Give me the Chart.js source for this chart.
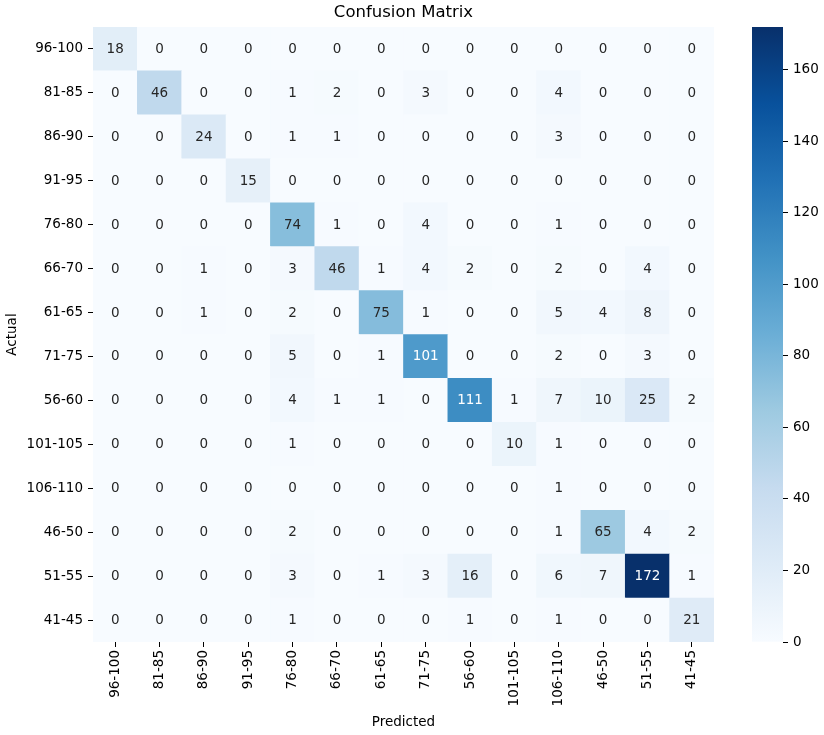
<!DOCTYPE html>
<html>
<head>
<meta charset="utf-8">
<script src="https://cdn.jsdelivr.net/npm/chart.js@4.4.1/dist/chart.umd.min.js"></script>
<style>
  html, body { margin: 0; padding: 0; background: #fff; }
  #wrap { position: relative; width: 824px; height: 735px; }
  #matrix { position: absolute; left: 0; top: 0; }
  #cbar { position: absolute; left: 740px; top: 0; }
</style>
</head>
<body>
<div id="wrap">
  <canvas id="matrix" width="807" height="735"></canvas>
  <canvas id="cbar" width="84" height="735"></canvas>
</div>
<script>
// Class labels (rows = actual, columns = predicted)
const actualLabels = ['96-100', '81-85', '86-90', '91-95', '76-80', '66-70', '61-65',
  '71-75', '56-60', '101-105', '106-110', '46-50', '51-55', '41-45'];
const predictedLabels = actualLabels.slice();

// Counts, one row per actual class
const counts = [
  [18, 0, 0, 0, 0, 0, 0, 0, 0, 0, 0, 0, 0, 0],
  [0, 46, 0, 0, 1, 2, 0, 3, 0, 0, 4, 0, 0, 0],
  [0, 0, 24, 0, 1, 1, 0, 0, 0, 0, 3, 0, 0, 0],
  [0, 0, 0, 15, 0, 0, 0, 0, 0, 0, 0, 0, 0, 0],
  [0, 0, 0, 0, 74, 1, 0, 4, 0, 0, 1, 0, 0, 0],
  [0, 0, 1, 0, 3, 46, 1, 4, 2, 0, 2, 0, 4, 0],
  [0, 0, 1, 0, 2, 0, 75, 1, 0, 0, 5, 4, 8, 0],
  [0, 0, 0, 0, 5, 0, 1, 101, 0, 0, 2, 0, 3, 0],
  [0, 0, 0, 0, 4, 1, 1, 0, 111, 1, 7, 10, 25, 2],
  [0, 0, 0, 0, 1, 0, 0, 0, 0, 10, 1, 0, 0, 0],
  [0, 0, 0, 0, 0, 0, 0, 0, 0, 0, 1, 0, 0, 0],
  [0, 0, 0, 0, 2, 0, 0, 0, 0, 0, 1, 65, 4, 2],
  [0, 0, 0, 0, 3, 0, 1, 3, 16, 0, 6, 7, 172, 1],
  [0, 0, 0, 0, 1, 0, 0, 0, 1, 0, 1, 0, 0, 21]
];

const colorbarStep = 20;

// matplotlib "Blues" colormap anchor colours
const bluesStops = [
  [247, 251, 255], [222, 235, 247], [198, 219, 239], [158, 202, 225], [107, 174, 214],
  [66, 146, 198], [33, 113, 181], [8, 81, 156], [8, 48, 107]
];

const FONT = '"DejaVu Sans", sans-serif';
const vmax = Math.max(...counts.flat());

function blues(t) {
  t = Math.min(1, Math.max(0, t));
  const pos = t * (bluesStops.length - 1);
  const i = Math.min(bluesStops.length - 2, Math.floor(pos));
  const f = pos - i;
  const a = bluesStops[i], b = bluesStops[i + 1];
  return a.map((c, k) => c + (b[k] - c) * f);
}

function rgb(c) {
  return `rgb(${c.map(Math.round).join(',')})`;
}

// same rule seaborn uses to pick annotation colour
function textColor(v) {
  const lin = blues(v / vmax).map(c => {
    c /= 255;
    return c <= 0.03928 ? c / 12.92 : Math.pow((c + 0.055) / 1.055, 2.4);
  });
  const lum = 0.2126 * lin[0] + 0.7152 * lin[1] + 0.0722 * lin[2];
  return lum > 0.408 ? '#262626' : '#ffffff';
}

// one floating bar per cell
const cells = [];
counts.forEach((row, r) => {
  row.forEach((v, c) => {
    cells.push({ x: predictedLabels[c], y: [r, r + 1], v: v });
  });
});

const cellText = {
  id: 'cellText',
  afterDatasetsDraw(chart) {
    const ctx = chart.ctx;
    const meta = chart.getDatasetMeta(0);
    ctx.save();
    ctx.font = `13.5px ${FONT}`;
    ctx.textAlign = 'center';
    ctx.textBaseline = 'middle';
    meta.data.forEach((bar, i) => {
      const d = cells[i];
      const p = bar.getProps(['x', 'y', 'base'], true);
      ctx.fillStyle = textColor(d.v);
      ctx.fillText(String(d.v), p.x, (p.y + p.base) / 2 + 0.5);
    });
    ctx.restore();
  }
};

const tickFont = { family: FONT, size: 13.5 };

new Chart(document.getElementById('matrix'), {
  type: 'bar',
  data: {
    datasets: [{
      data: cells,
      backgroundColor: cells.map(d => rgb(blues(d.v / vmax))),
      borderWidth: 0,
      barPercentage: 1,
      categoryPercentage: 1
    }]
  },
  plugins: [cellText],
  options: {
    responsive: false,
    animation: false,
    layout: { padding: 0 },
    plugins: {
      legend: { display: false },
      tooltip: { enabled: false },
      title: {
        display: true,
        text: 'Confusion Matrix',
        color: '#000',
        font: { family: FONT, size: 16.5, weight: 'normal', lineHeight: 1.2 },
        padding: { top: 3, bottom: 4.2 }
      }
    },
    scales: {
      x: {
        type: 'category',
        labels: predictedLabels,
        offset: true,
        grid: { offset: false, drawOnChartArea: false, tickLength: 5, color: '#000', lineWidth: 1 },
        border: { display: false },
        ticks: { autoSkip: false, maxRotation: 90, minRotation: 90, padding: 3, color: '#000', font: tickFont },
        title: {
          display: true, text: 'Predicted', color: '#000',
          font: { family: FONT, size: 13.5 }, padding: { top: 0, bottom: 4 }
        },
        afterFit(scale) { scale.height = 93; }
      },
      y: {
        type: 'linear',
        min: 0,
        max: actualLabels.length,
        reverse: true,
        afterBuildTicks(scale) {
          scale.ticks = actualLabels.map((_, i) => ({ value: i + 0.5 }));
        },
        grid: { drawOnChartArea: false, tickLength: 5, color: '#000', lineWidth: 1 },
        border: { display: false },
        ticks: {
          padding: 5, color: '#000', font: tickFont,
          callback: (v, i) => actualLabels[i]
        },
        title: {
          display: true, text: 'Actual', color: '#000',
          font: { family: FONT, size: 13.5 }, padding: { top: 4, bottom: 0 }
        },
        afterFit(scale) { scale.width = 93; }
      },
      // empty spacer so the title centres over the matrix
      spacer: {
        type: 'linear',
        position: 'right',
        grid: { display: false },
        border: { display: false },
        ticks: { display: false },
        afterFit(scale) { scale.width = 93; }
      }
    }
  }
});

// colour bar
new Chart(document.getElementById('cbar'), {
  type: 'bar',
  data: {
    labels: [''],
    datasets: [{
      data: [[0, vmax]],
      borderWidth: 0,
      barPercentage: 1,
      categoryPercentage: 1,
      backgroundColor(context) {
        const chart = context.chart;
        const y = chart.scales.y;
        if (!chart.chartArea || !y) return rgb(bluesStops[4]);
        const g = chart.ctx.createLinearGradient(0, y.getPixelForValue(0), 0, y.getPixelForValue(vmax));
        bluesStops.forEach((c, i) => g.addColorStop(i / (bluesStops.length - 1), rgb(c)));
        return g;
      }
    }]
  },
  options: {
    responsive: false,
    animation: false,
    layout: { padding: { left: 12, top: 27, bottom: 93, right: 0 } },
    plugins: { legend: { display: false }, tooltip: { enabled: false } },
    scales: {
      x: { display: false },
      y: {
        position: 'right',
        min: 0,
        max: vmax,
        grid: { drawOnChartArea: false, tickLength: 5, color: '#000', lineWidth: 1 },
        border: { display: false },
        ticks: { stepSize: colorbarStep, includeBounds: false, padding: 5, color: '#000', font: tickFont },
        afterFit(scale) { scale.width = 41; }
      }
    }
  }
});
</script>
</body>
</html>
